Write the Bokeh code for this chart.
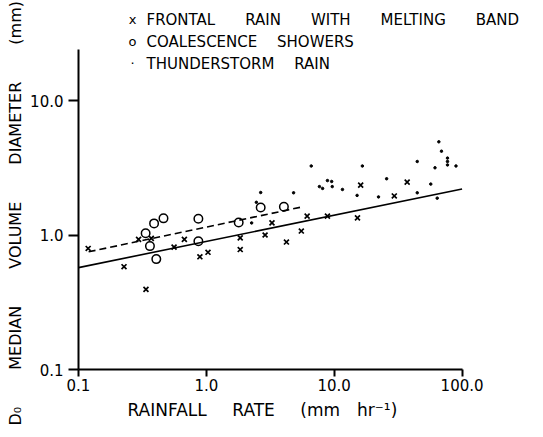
from bokeh.plotting import figure
from bokeh.models import Range1d, FixedTicker, CustomJSTickFormatter, Label, Title
from bokeh.embed import file_html
from bokeh.resources import INLINE

# ---- data ----
frontal_rate = [0.119, 0.227, 0.295, 0.371, 0.337, 0.559, 0.673, 0.890, 1.03,
                1.84, 1.84, 2.88, 3.26, 4.23, 5.53, 6.14, 8.85, 15.2, 16.1,
                29.5, 37.2]
frontal_d0 = [0.794, 0.581, 0.927, 0.943, 0.394, 0.813, 0.927, 0.689, 0.744,
              0.953, 0.780, 1.00, 1.23, 0.887, 1.07, 1.38, 1.38, 1.34, 2.35,
              1.95, 2.47]

coal_rate = [0.335, 0.362, 0.390, 0.462, 0.406, 0.866, 0.866, 1.79, 2.66, 4.04]
coal_d0 = [1.03, 0.827, 1.22, 1.33, 0.662, 1.32, 0.899, 1.24, 1.60, 1.62]

thunder_rate = [2.66, 4.81, 2.46, 2.26, 6.61, 7.66, 8.11, 8.85, 9.55, 9.65,
                11.6, 15.1, 16.6, 22.2, 25.7, 44.6, 44.6, 56.9, 61.4, 63.9,
                65.8, 69.0, 76.9, 76.9, 76.9, 89.6]
thunder_d0 = [2.07, 2.06, 1.75, 1.23, 3.26, 2.29, 2.22, 2.54, 2.50, 2.29,
              2.18, 1.97, 3.26, 1.92, 2.62, 3.52, 2.06, 2.39, 3.16, 1.88,
              4.93, 4.20, 3.73, 3.52, 3.32, 3.26]

fit_all_rate = [0.1, 100.0]
fit_all_d0 = [0.572, 2.2]
fit_coal_rate = [0.12, 5.5]
fit_coal_d0 = [0.75, 1.61]

x_ticks = [0.1, 1.0, 10.0, 100.0]
y_ticks = [0.1, 1.0, 10.0]
x_axis_extent = (0.1, 100.0)
y_axis_extent = (0.1, 24.0)

G1 = "\u2003\u2003"
G2 = "\u2003\u00a0"
legend_marks = ["x", "o", "\u00b7"]
legend_texts = ["FRONTAL" + G1 + "RAIN" + G1 + "WITH" + G1 + "MELTING" + G1 + "BAND",
                "COALESCENCE" + G2 + "SHOWERS",
                "THUNDERSTORM" + G2 + "RAIN"]

G = "\u2003\u2003\u00a0"
x_title = "RAINFALL\u2003\u2002RATE\u2003\u2002(mm\u2003hr\u207b\u00b9)"
y_title = "D\u2080" + G + "MEDIAN" + G + "VOLUME" + G + "DIAMETER" + G + "(mm)"

FONT = "DejaVu Sans"

p = figure(width=527, height=426, x_axis_type="log", y_axis_type="log",
           x_range=Range1d(0.1, 324.8), y_range=Range1d(0.1, 55.4),
           output_backend="svg", toolbar_location=None,
           min_border_left=74, min_border_right=0,
           min_border_top=0, min_border_bottom=57)
p.outline_line_color = None
p.xgrid.grid_line_color = None
p.ygrid.grid_line_color = None
p.background_fill_color = "white"
p.border_fill_color = "white"

fmt = CustomJSTickFormatter(code="return tick.toFixed(1);")
p.xaxis.ticker = FixedTicker(ticks=x_ticks)
p.yaxis.ticker = FixedTicker(ticks=y_ticks)
p.xaxis.bounds = x_axis_extent
p.yaxis.bounds = y_axis_extent
for ax in (p.xaxis[0], p.yaxis[0]):
    ax.formatter = fmt
    ax.minor_tick_line_color = None
    ax.major_tick_in = 0
    ax.major_tick_line_width = 2
    ax.axis_line_width = 2
    ax.axis_line_color = "black"
    ax.major_tick_line_color = "black"
    ax.major_label_text_font = FONT
    ax.major_label_text_font_size = "15px"
    ax.major_label_text_color = "black"

p.xaxis.major_tick_out = 7
p.yaxis.major_tick_out = 10
p.xaxis.major_label_standoff = 2
p.yaxis.major_label_standoff = 5

p.add_layout(Title(text=x_title, align="left", offset=49, standoff=9,
                   text_font=FONT, text_font_size="17px", text_font_style="normal",
                   text_color="black"), "below")
p.add_layout(Title(text=y_title, align="left", offset=-56, standoff=6,
                   text_font=FONT, text_font_size="16px", text_font_style="normal",
                   text_color="black"), "left")

p.line(fit_all_rate, fit_all_d0, line_color="black", line_width=1.6)
p.line(fit_coal_rate, fit_coal_d0, line_color="black", line_width=1.6, line_dash="7 4")

p.scatter(frontal_rate, frontal_d0, marker="x", size=7, line_color="black", line_width=1.7)
p.scatter(coal_rate, coal_d0, marker="circle", size=8.5, fill_color=None,
          line_color="black", line_width=1.5)
p.scatter(thunder_rate, thunder_d0, marker="circle", size=2.5, fill_color="black",
          line_color="black")

rows_y = [350, 328, 306]
for mark, txt, yy in zip(legend_marks, legend_texts, rows_y):
    p.add_layout(Label(x=54, y=yy, x_units="screen", y_units="screen", text=mark,
                       text_font=FONT, text_font_size="13px", text_baseline="middle",
                       text_align="center", text_color="black"))
    p.add_layout(Label(x=68, y=yy, x_units="screen", y_units="screen", text=txt,
                       text_font=FONT, text_font_size="15px", text_baseline="middle",
                       text_align="left", text_color="black"))

open("out.html", "w").write(file_html(p, INLINE))
